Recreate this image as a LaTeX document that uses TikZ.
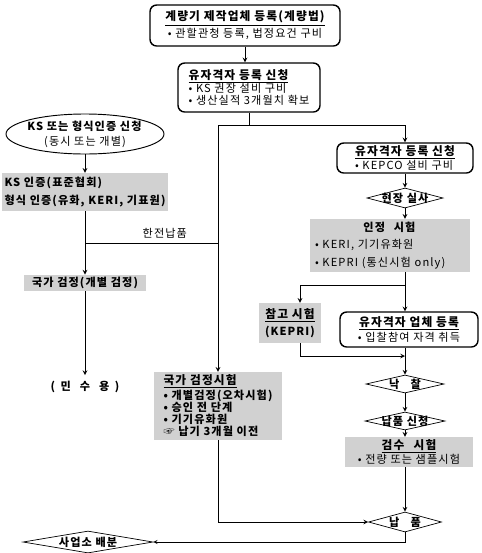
\documentclass[tikz,border=0pt]{standalone}
\usepackage{fontspec}
\usepackage{tikz}
\usetikzlibrary{arrows,shapes.geometric}
\newfontfamily\kr{Noto Sans CJK KR}[LetterSpace=10]
\definecolor{dotgray}{rgb}{0.82,0.82,0.82}
\newcommand{\fs}[1]{\kr\fontsize{9.5}{#1}\selectfont}
\newcommand{\ttl}[1]{{\bfseries\fontsize{10}{12}\selectfont\underline{#1}}}

\begin{document}
\begin{tikzpicture}[
    rbox/.style={rectangle, draw, very thick, rounded corners=2mm, inner sep=2pt},
    gbox/.style={rectangle, fill=dotgray, inner sep=2pt},
    dia/.style={diamond, draw, semithick, inner sep=0pt},
    rel/.style={->, >=stealth, thick},
    wire/.style={thick},
    every node/.style={font=\fs{12}},
    every label/.style={font=\fs{12}\bfseries}
]
    \useasboundingbox (0,0) rectangle (14.46,-16.59);

    % Nodes
    \node[rbox, minimum width=5.7cm, minimum height=1.23cm, align=center, font=\fs{14.5}] (maker) at (7.35,-0.765) {\ttl{계량기 제작업체 등록(계량법)}\\• 관할관청 등록, 법정요건 구비};
    \node[rbox, minimum width=4.26cm, minimum height=1.47cm, align=left, font=\fs{11}] (qualapp) at (7.47,-2.625) {\ttl{유자격자 등록 신청}\\• KS 권장 설비 구비\\• 생산실적 3개월치 확보};
    \node[ellipse, draw, thick, minimum width=4.74cm, minimum height=1.2cm, inner sep=0pt,
          label={[align=center, font=\fs{12.8}]center:{\textbf{KS 또는 형식인증 신청}\\(동시 또는 개별)}}] (ksapp) at (2.55,-4.02) {};
    \node[rbox, minimum width=4.08cm, minimum height=0.9cm, align=left, font=\fs{10.3}] (kepapp) at (12.15,-4.74) {\ttl{유자격자 등록 신청}\\• KEPCO 설비 구비};
    \node[dia, minimum width=2.28cm, minimum height=0.6cm, label={center:현장 실사}] (survey) at (12.15,-5.94) {};
    \node[gbox, minimum width=4.8cm, minimum height=1.14cm, align=left, font={\fs{16}\bfseries}] (kscert) at (2.55,-5.76) {KS 인증(표준협회)\\형식 인증(유화, KERI, 기표원)};
    \node[gbox, minimum width=4.8cm, minimum height=1.59cm, text width=4.5cm, align=left, font=\fs{15}] (certtest) at (11.7,-7.365) {\hfill\textbf{인정\hspace{.8em}시험}\hfill\null\\• KERI, 기기유화원\\• KEPRI (통신시험 only)};
    \node[gbox, minimum width=3.66cm, minimum height=0.48cm, font={\fs{12}\bfseries}] (natver) at (2.55,-8.49) {국가 검정(개별 검정)};
    \node[gbox, minimum width=1.86cm, minimum height=1.2cm, align=center, font={\fs{14}\bfseries}] (reftest) at (8.7,-9.69) {\ttl{참고 시험}\\(KEPRI)};
    \node[rbox, minimum width=4.14cm, minimum height=1.05cm, align=center, font=\fs{12.8}] (qualreg) at (12.27,-9.885) {\ttl{유자격자 업체 등록}\\• 입찰참여 자격 취득};
    \node[inner sep=5pt, font={\fs{12}\bfseries}] (civil) at (2.55,-11.61) {(\hspace{.5em}민\hspace{.8em}수\hspace{.8em}용\hspace{.5em})};
    \node[dia, minimum width=2.34cm, minimum height=0.54cm, label={center:낙\hspace{1em}찰}] (award) at (12.15,-11.52) {};
    \node[gbox, minimum width=3.84cm, minimum height=2.04cm, align=left, font={\fs{10.5}\bfseries}] (nattest) at (6.54,-12.18) {\ttl{국가 검정시험}\\• 개별검정(오차시험)\\• 승인 전 단계\\• 기기유화원\\☞ 납기 3개월 이전};
    \node[dia, minimum width=2.4cm, minimum height=0.54cm, label={center:납품 신청}] (delreq) at (12.15,-12.63) {};
    \node[gbox, minimum width=3.84cm, minimum height=0.9cm, align=center, font=\fs{10.3}] (inspect) at (12.27,-13.56) {\ttl{검수\hspace{.8em}시험}\\• 전량 또는 샘플시험};
    \node[dia, minimum width=2.19cm, minimum height=0.6cm, label={center:납\hspace{1em}품}] (deliver) at (12.15,-15.66) {};
    \node[dia, minimum width=3.9cm, minimum height=0.66cm, label={center:사업소 배분}] (distrib) at (2.64,-16.26) {};

    \coordinate (sl) at (6.54,-3.75);
    \coordinate (hj) at (2.55,-7.29);
    \coordinate (sm) at (12.15,-8.55);
    \coordinate (rx) at (9.0,-8.55);
    \coordinate (mrg) at (12.15,-10.68);

    % Relations
    \draw[rel] (maker.south) -- (maker.south |- qualapp.north);
    \draw[wire] (qualapp.south) -- (qualapp.south |- sl);
    \draw[rel] (sl) -- (nattest.north);
    \draw[rel] (sl) -| (kepapp.north);
    \draw[rel] (kepapp) -- (survey);
    \draw[rel] (survey.south) -- (survey.south |- certtest.north);
    \draw[wire] (certtest.south -| sm) -- (sm);
    \draw[rel] (sm) -- (sm |- qualreg.north);
    \draw[rel] (sm) -- (rx) -- (rx |- reftest.north);
    \draw[rel] (qualreg.south -| sm) -- (award.north);
    \draw[rel] (rx |- reftest.south) |- (mrg);
    \draw[rel] (award) -- (delreq);
    \draw[rel] (delreq.south) -- (delreq.south |- inspect.north);
    \draw[rel] (inspect.south -| deliver) -- (deliver.north);
    \draw[rel] (nattest.south) |- (deliver.west);
    \draw[rel, semithick] (deliver.south) |- (distrib.east);

    \draw[rel] (ksapp) -- (kscert);
    \draw[rel] (kscert) -- (natver);
    \draw[wire] (hj) -- node[above, pos=0.6]{한전납품} (hj -| sl);
    \draw[rel] (natver) -- (civil);
\end{tikzpicture}
\end{document}
